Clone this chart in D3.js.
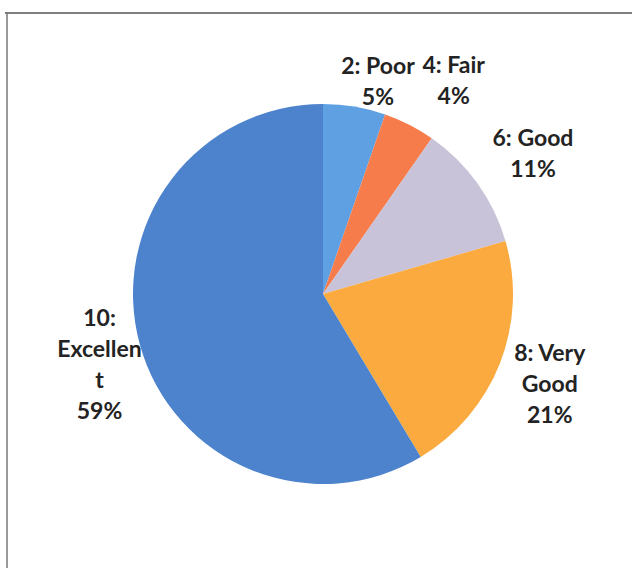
<!DOCTYPE html>
<html><head><meta charset="utf-8">
<script src="https://cdn.jsdelivr.net/npm/d3@7"></script>
<style>html,body{margin:0;padding:0;background:#fff;}svg{display:block;}</style>
</head><body>
<svg id="c" width="632" height="568"></svg>
<script>
const categories = ["2: Poor", "4: Fair", "6: Good", "8: Very Good", "10: Excellent"];
const values = [5.3, 4.4, 10.8, 20.9, 58.6];
const labelLines = [["2: Poor"], ["4: Fair"], ["6: Good"], ["8: Very", "Good"], ["10:", "Excellen", "t"]];
const colors = ["#5fa0e3", "#f67d4b", "#c8c3d9", "#faaa3e", "#4d83cd"];

const svg = d3.select("#c");
// frame lines
svg.append("line").attr("x1", 5).attr("x2", 632).attr("y1", 13).attr("y2", 13).attr("stroke", "#555").attr("stroke-width", 1.5);
svg.append("line").attr("x1", 7).attr("x2", 7).attr("y1", 12).attr("y2", 568).attr("stroke", "#777").attr("stroke-width", 1.5);

const cx = 323, cy = 294, R = 190;
const g = svg.append("g").attr("transform", `translate(${cx},${cy})`);
const pie = d3.pie().sort(null).value(d => d)(values);
const arc = d3.arc().innerRadius(0).outerRadius(R);
g.selectAll("path").data(pie).join("path")
  .attr("d", arc).attr("fill", (d, i) => colors[i]);

const total = d3.sum(values);
const fmt = v => Math.round(v / total * 100) + "%";
const labelR = 235;
const nudge = [[16, 19], [24, -4], [19, -4], [8, 4], [3, 8]];
const lineH = 31;
pie.forEach((d, i) => {
  const a = (d.startAngle + d.endAngle) / 2;
  const x = Math.sin(a) * labelR + nudge[i][0], y = -Math.cos(a) * labelR + nudge[i][1];
  const lines = labelLines[i].concat([fmt(values[i])]);
  const t = g.append("text").attr("text-anchor", "middle")
    .attr("font-family", "Lato, 'Open Sans', sans-serif").attr("font-weight", "bold")
    .attr("font-size", 23).attr("fill", "#232323");
  const y0 = y - (lines.length - 1) * lineH / 2 + 8;
  lines.forEach((l, k) => t.append("tspan").attr("x", x).attr("y", y0 + k * lineH).text(l));
});
</script>
</body></html>
